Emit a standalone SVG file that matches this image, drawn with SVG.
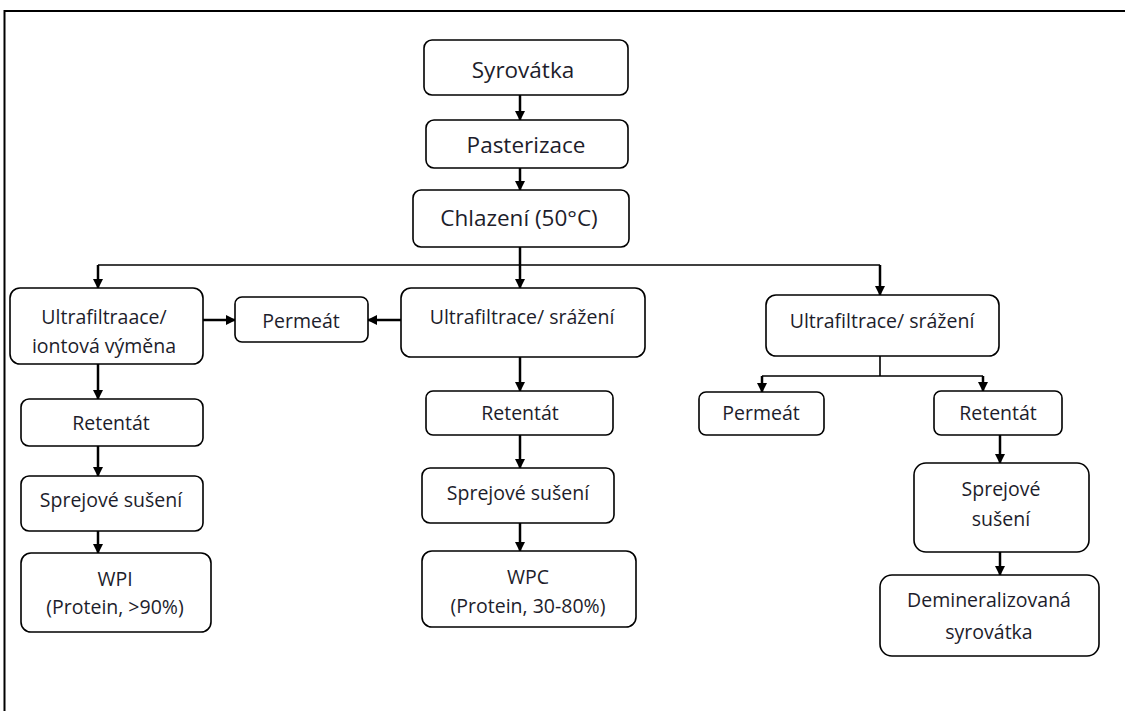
<svg xmlns="http://www.w3.org/2000/svg" width="1125" height="711" viewBox="0 0 1125 711">
<defs>
<marker id="ah" markerWidth="10" markerHeight="10" refX="9" refY="5" orient="auto" markerUnits="userSpaceOnUse">
<path d="M0,0 L10,5 L0,10 Z" fill="#000"/>
</marker>
<style>
.box{fill:#fff;stroke:#000;stroke-width:1.6}
.t{font-family:"Open Sans","Noto Sans",sans-serif;font-size:19.5px;fill:#1d1d2b;text-anchor:middle}
.tb{font-size:22.5px}
.c{fill:none;stroke:#000;stroke-width:2.5}
.thin{fill:none;stroke:#000;stroke-width:1.6}
</style>
</defs>
<rect x="0" y="0" width="1125" height="711" fill="#fff"/>
<path d="M4.5,711 V11 H1125" fill="none" stroke="#000" stroke-width="2"/>
<g id="connectors">
<path class="c" d="M520,95 V120" marker-end="url(#ah)"/>
<path class="c" d="M520,168 V190" marker-end="url(#ah)"/>
<path class="c" d="M520,247 V265"/>
<path class="thin" d="M98,265 H880"/>
<path class="c" d="M98,265 V288" marker-end="url(#ah)"/>
<path class="c" d="M520,265 V288" marker-end="url(#ah)"/>
<path class="c" d="M880,265 V295" marker-end="url(#ah)"/>
<path class="c" d="M203,320 H235" marker-end="url(#ah)"/>
<path class="c" d="M401,320 H368" marker-end="url(#ah)"/>
<path class="thin" d="M880,356 V376 M762,376 H983"/>
<path class="c" d="M762,376 V392" marker-end="url(#ah)"/>
<path class="c" d="M983,376 V391" marker-end="url(#ah)"/>
<path class="c" d="M98,364 V399" marker-end="url(#ah)"/>
<path class="c" d="M98,446 V476" marker-end="url(#ah)"/>
<path class="c" d="M98,531 V553" marker-end="url(#ah)"/>
<path class="c" d="M520,357 V391" marker-end="url(#ah)"/>
<path class="c" d="M520,435 V468" marker-end="url(#ah)"/>
<path class="c" d="M520,523 V551" marker-end="url(#ah)"/>
<path class="c" d="M1000,435 V463" marker-end="url(#ah)"/>
<path class="c" d="M1000,552 V575" marker-end="url(#ah)"/>
</g>
<g id="syrovatka"><rect class="box" x="424" y="40" width="204" height="55" rx="8"/><text class="t tb" x="523" y="78">Syrovátka</text></g>
<g id="pasterizace"><rect class="box" x="426" y="120" width="202" height="48" rx="8"/><text class="t tb" x="526" y="153">Pasterizace</text></g>
<g id="chlazeni"><rect class="box" x="413" y="190" width="216" height="57" rx="8"/><text class="t tb" x="519" y="226">Chlazení (50°C)</text></g>
<g id="uf-left"><rect class="box" x="10" y="288" width="193" height="76" rx="10"/><text class="t" x="104" y="324">Ultrafiltraace/</text><text class="t" x="104" y="353">iontová výměna</text></g>
<g id="permeat-mid"><rect class="box" x="235" y="297" width="133" height="45" rx="7"/><text class="t" x="301" y="328">Permeát</text></g>
<g id="uf-mid"><rect class="box" x="401" y="288" width="244" height="69" rx="10"/><text class="t" x="522" y="324">Ultrafiltrace/ srážení</text></g>
<g id="uf-right"><rect class="box" x="766" y="295" width="233" height="61" rx="10"/><text class="t" x="882" y="328">Ultrafiltrace/ srážení</text></g>
<g id="permeat-right"><rect class="box" x="699" y="392" width="125" height="43" rx="7"/><text class="t" x="761" y="420">Permeát</text></g>
<g id="retentat-right"><rect class="box" x="934" y="391" width="128" height="44" rx="7"/><text class="t" x="998" y="420">Retentát</text></g>
<g id="retentat-left"><rect class="box" x="21" y="399" width="182" height="47" rx="8"/><text class="t" x="111" y="430">Retentát</text></g>
<g id="sprej-left"><rect class="box" x="21" y="476" width="182" height="55" rx="8"/><text class="t" x="111" y="507">Sprejové sušení</text></g>
<g id="wpi"><rect class="box" x="21" y="553" width="190" height="79" rx="10"/><text class="t" x="115" y="586">WPI</text><text class="t" x="115" y="614">(Protein, &gt;90%)</text></g>
<g id="retentat-mid"><rect class="box" x="426" y="391" width="187" height="44" rx="7"/><text class="t" x="520" y="420">Retentát</text></g>
<g id="sprej-mid"><rect class="box" x="422" y="468" width="192" height="55" rx="8"/><text class="t" x="518" y="500">Sprejové sušení</text></g>
<g id="wpc"><rect class="box" x="422" y="551" width="214" height="76" rx="10"/><text class="t" x="528" y="584">WPC</text><text class="t" x="528" y="613">(Protein, 30-80%)</text></g>
<g id="sprej-right"><rect class="box" x="914" y="463" width="175" height="89" rx="12"/><text class="t" x="1001" y="496">Sprejové</text><text class="t" x="1001" y="526">sušení</text></g>
<g id="demin"><rect class="box" x="880" y="575" width="219" height="81" rx="12"/><text class="t" x="989" y="607">Demineralizovaná</text><text class="t" x="989" y="639">syrovátka</text></g>
</svg>
